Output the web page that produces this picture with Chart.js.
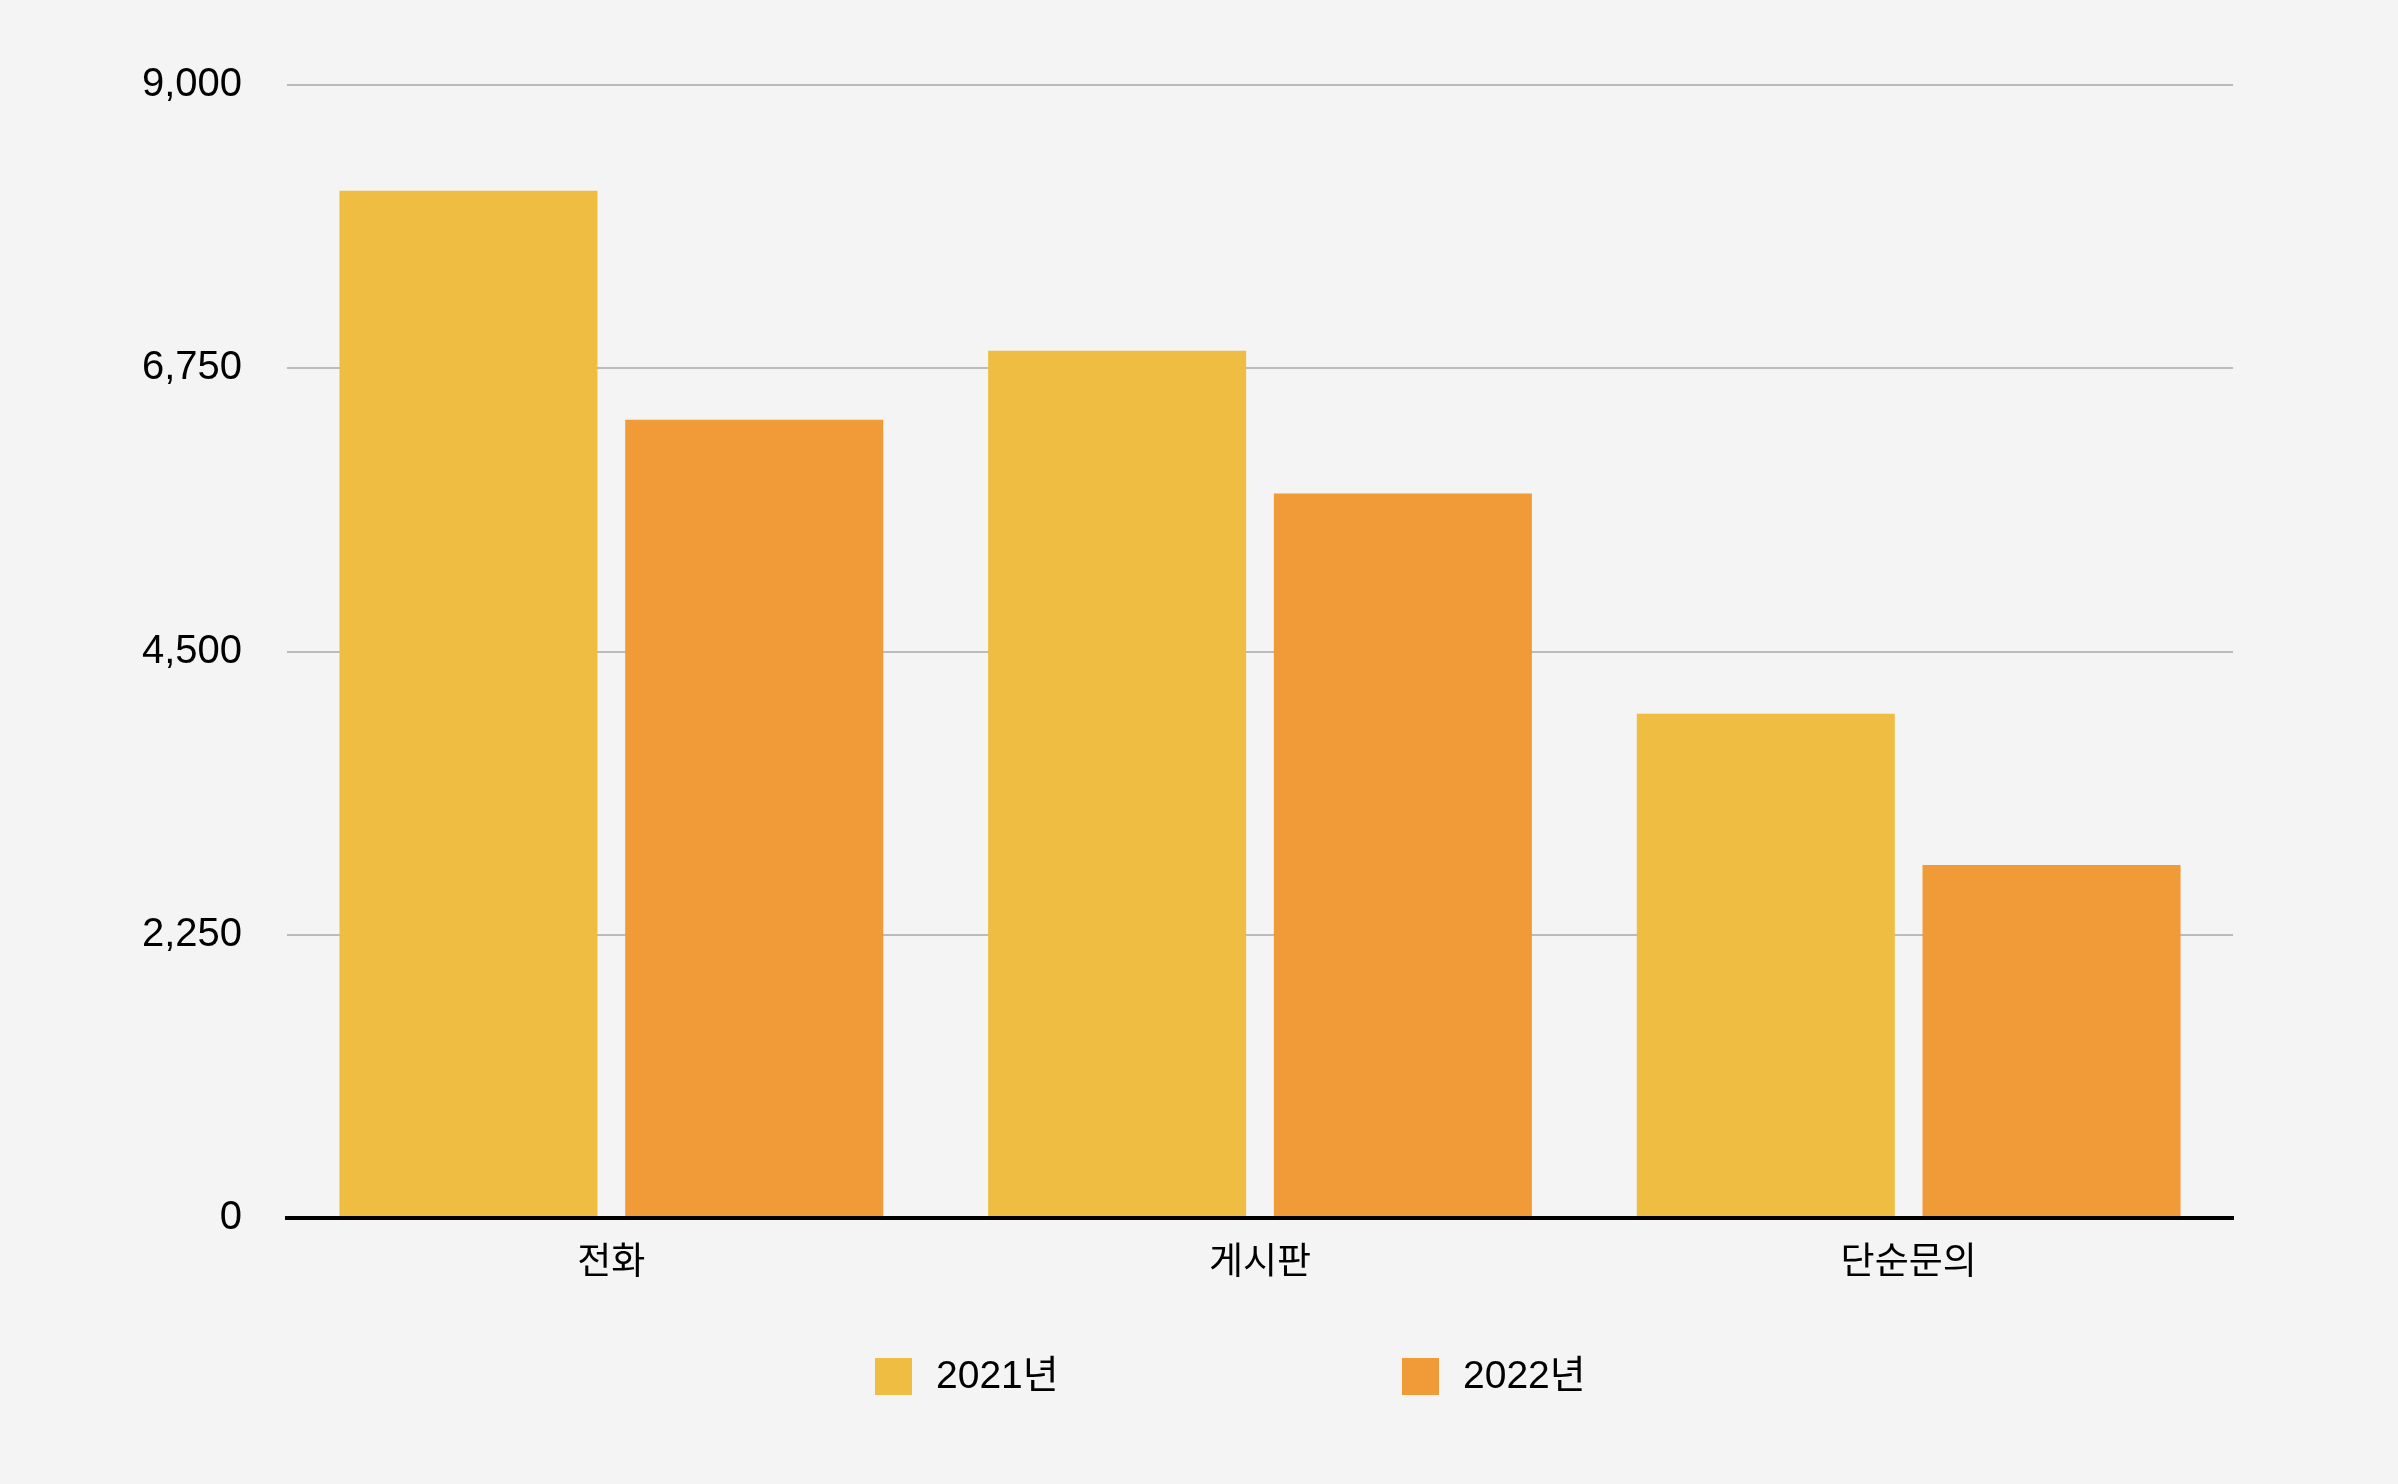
<!DOCTYPE html>
<html>
<head>
<meta charset="utf-8">
<script src="https://cdn.jsdelivr.net/npm/chart.js@4"></script>
<style>
    html, body { margin: 0; padding: 0; background: #f4f4f4; }
    #wrap { width: 2398px; height: 1484px; }
</style>
</head>
<body>
<div id="wrap"><canvas id="barChart" width="2398" height="1484"></canvas></div>
<script>
    // data
    var categories = ['전화', '게시판', '단순문의'];
    var seriesNames = ['2021년', '2022년'];
    var values2021 = [8160, 6890, 4005];
    var values2022 = [6340, 5755, 2805];
    var yTicks = [0, 2250, 4500, 6750, 9000];
    var seriesColors = ['#efbd42', '#f09a38'];

    var fontLatin = '"Liberation Sans", "Noto Sans CJK KR", sans-serif';

    // legend drawn under the axis, spaced like the original
    var bottomLegend = {
        id: 'bottomLegend',
        afterDraw: function (chart) {
            var ctx = chart.ctx;
            var area = chart.chartArea;
            var startX = area.left + 588;
            var midY = area.bottom + 158;
            ctx.save();
            ctx.font = '39px ' + fontLatin;
            ctx.textBaseline = 'middle';
            ctx.textAlign = 'left';
            chart.data.datasets.forEach(function (ds, i) {
                var bx = startX + i * 527;
                ctx.fillStyle = ds.backgroundColor;
                ctx.fillRect(bx, midY - 18, 37, 37);
                ctx.fillStyle = '#000';
                ctx.fillText(ds.label, bx + 61, midY + 1);
            });
            ctx.restore();
        }
    };

    var ctx = document.getElementById('barChart').getContext('2d');
    var chart = new Chart(ctx, {
        type: 'bar',
        data: {
            labels: categories,
            datasets: [{
                label: seriesNames[0],
                data: values2021,
                backgroundColor: seriesColors[0]
            }, {
                label: seriesNames[1],
                data: values2022,
                backgroundColor: seriesColors[1]
            }]
        },
        options: {
            responsive: false,
            animation: false,
            devicePixelRatio: 1,
            categoryPercentage: 0.881,
            barPercentage: 0.903,
            layout: {
                padding: { top: 85, right: 165, left: 87, bottom: 186 }
            },
            plugins: {
                legend: { display: false },
                tooltip: { enabled: false }
            },
            scales: {
                x: {
                    grid: { display: false, drawTicks: false },
                    border: { display: true, color: '#000', width: 4, z: 1 },
                    ticks: {
                        color: '#000',
                        padding: 20,
                        font: { size: 37, family: '"Noto Sans CJK KR", sans-serif' }
                    },
                    afterFit: function (scale) { scale.height = 80; }
                },
                y: {
                    min: 0,
                    max: 9000,
                    afterBuildTicks: function (scale) {
                        scale.ticks = yTicks.map(function (v) { return { value: v }; });
                    },
                    grid: { color: '#bbbbbb', lineWidth: 2, drawTicks: false },
                    border: { display: false },
                    ticks: {
                        color: '#000',
                        padding: 45,
                        font: { size: 40, family: fontLatin },
                        callback: function (v) { return v.toLocaleString('en-US'); }
                    },
                    afterFit: function (scale) { scale.width = 200; }
                }
            }
        },
        plugins: [bottomLegend]
    });
</script>
</body>
</html>
